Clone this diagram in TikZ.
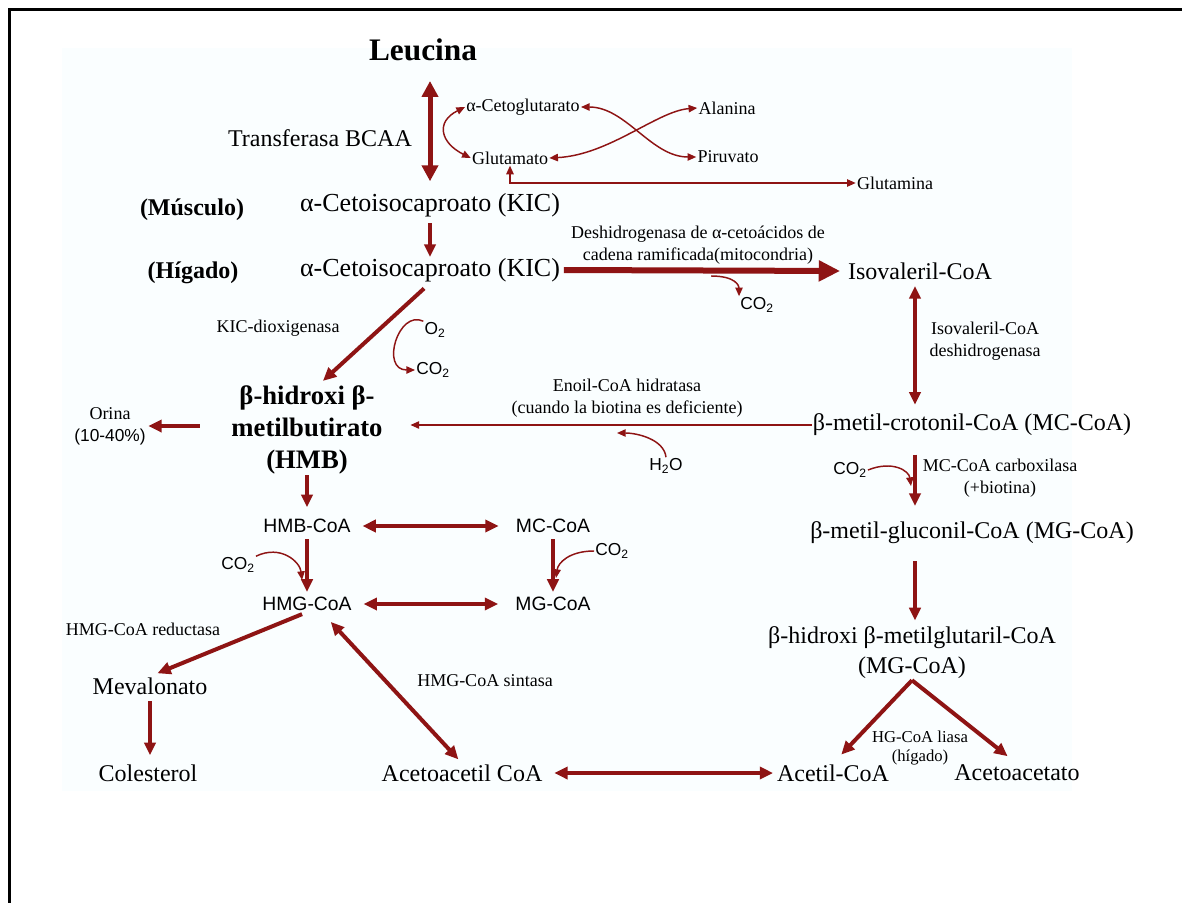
\documentclass[tikz,border=0pt]{standalone}
\usepackage{fontspec}
\setmainfont{Liberation Serif}
\setsansfont{Liberation Sans}
\usepackage{tikz}
\usetikzlibrary{arrows.meta}
\definecolor{pathred}{RGB}{142,20,20}

\tikzset{
  titletxt/.style={font=\bfseries\fontsize{23.5}{28}\selectfont, inner sep=0.75pt},
  bigtxt/.style={font=\fontsize{18}{22.5}\selectfont, inner sep=0.75pt, align=center},
  kictxt/.style={font=\fontsize{19.5}{23}\selectfont, inner sep=0.75pt},
  boldtxt/.style={font=\bfseries\fontsize{18}{22}\selectfont, inner sep=0.75pt},
  hmbtxt/.style={font=\bfseries\fontsize{20}{24}\selectfont, inner sep=0.75pt, align=center},
  smalltxt/.style={font=\fontsize{13.5}{16.5}\selectfont, inner sep=0.75pt, align=center},
  sanstxt/.style={font=\sffamily\fontsize{14.5}{17}\selectfont, inner sep=0.75pt},
  gastxt/.style={font=\sffamily\fontsize{13}{15}\selectfont, inner sep=0.75pt},
  fatarrow/.style={draw=pathred, line width=4.5pt, -{Triangle[length=16pt,width=15pt]}},
  fatboth/.style={draw=pathred, line width=3.75pt, {Triangle[length=12pt,width=12pt]}-{Triangle[length=12pt,width=12pt]}},
  midarrow/.style={draw=pathred, line width=3pt, -{Triangle[length=10pt,width=9pt]}},
  midboth/.style={draw=pathred, line width=3pt, {Triangle[length=10pt,width=9pt]}-{Triangle[length=10pt,width=9pt]}},
  slimarrow/.style={draw=pathred, line width=2.5pt, -{Triangle[length=9.5pt,width=8.5pt]}},
  slimboth/.style={draw=pathred, line width=2.5pt, {Triangle[length=9.5pt,width=8.5pt]}-{Triangle[length=9.5pt,width=8.5pt]}},
  hairarrow/.style={draw=pathred, line width=1.1pt, -{Triangle[length=6.5pt,width=5.5pt]}},
  hairboth/.style={draw=pathred, line width=1.1pt, {Triangle[length=6.5pt,width=5.5pt]}-{Triangle[length=6.5pt,width=5.5pt]}},
}

\begin{document}
\begin{tikzpicture}[x=0.75pt,y=0.75pt,yscale=-1,xscale=1]
\useasboundingbox (0,0) rectangle (1182,903);

%Shape: Rectangle
\fill [fill={rgb, 255:red, 250; green, 254; blue, 255 }] (62,48) rectangle (1072,791);
%Straight Lines (frame)
\draw [line width=2.25pt] (9,903) -- (9,9) -- (1182,9);

% Text Node
\draw (423,50) node (leucina) [titletxt] {Leucina};
% Text Node
\draw (320,138) node (bcaa) [bigtxt] {Transferasa BCAA};
% Text Node
\draw (523,107) node (akg) [smalltxt] {α-Cetoglutarato};
% Text Node
\draw (510,158) node (glu) [smalltxt] {Glutamato};
% Text Node
\draw (727,108) node (ala) [smalltxt] {Alanina};
% Text Node
\draw (728,157) node (piru) [smalltxt] {Piruvato};
% Text Node
\draw (895,183) node (gln) [smalltxt] {Glutamina};
% Text Node
\draw (192,210) node (musc) [boldtxt] {(Músculo)};
% Text Node
\draw (430,205) node (kicm) [kictxt] {α-Cetoisocaproato (KIC)};
% Text Node
\draw (193,273) node (hig) [boldtxt] {(Hígado)};
% Text Node
\draw (430,270) node (kich) [kictxt] {α-Cetoisocaproato (KIC)};
% Text Node
\draw (698,245) node (bckd) [smalltxt] {Deshidrogenasa de α-cetoácidos de\\cadena ramificada(mitocondria)};
% Text Node
\draw (920,271) node (isov) [bigtxt] {Isovaleril-CoA};
% Text Node
\draw (757,305) node (co2a) [gastxt] {CO\textsubscript{2}};
% Text Node
\draw (278,328) node (kdo) [smalltxt] {KIC-dioxigenasa};
% Text Node
\draw (435,330) node (o2) [gastxt] {O\textsubscript{2}};
% Text Node
\draw (433,370) node (co2b) [gastxt] {CO\textsubscript{2}};
% Text Node
\draw (985,341) node (ivd) [smalltxt] {Isovaleril-CoA\\deshidrogenasa};
% Text Node
\draw (307,430) node (hmb) [hmbtxt] {β-hidroxi β-\\metilbutirato\\(HMB)};
% Text Node
\draw (110,426) node (orina) [smalltxt] {Orina\\{\sffamily\fontsize{13}{15}\selectfont (10-40\%)}};
% Text Node
\draw (627,398) node (enoil) [smalltxt] {Enoil-CoA hidratasa\\(cuando la biotina es deficiente)};
% Text Node
\draw (666,466) node (h2o) [gastxt] {H\textsubscript{2}O};
% Text Node
\draw (972,425) node (mcc) [bigtxt] {β-metil-crotonil-CoA (MC-CoA)};
% Text Node
\draw (850,470) node (co2c) [gastxt] {CO\textsubscript{2}};
% Text Node
\draw (1000,478) node (mccase) [smalltxt] {MC-CoA carboxilasa\\(+biotina)};
% Text Node
\draw (972,533) node (mgc) [bigtxt] {β-metil-gluconil-CoA (MG-CoA)};
% Text Node
\draw (912,653) node (hmgr) [bigtxt] {β-hidroxi β-metilglutaril-CoA\\(MG-CoA)};
% Text Node
\draw (920,748) node (lyase) [smalltxt, font=\fontsize{12.5}{14.5}\selectfont] {HG-CoA liasa\\(hígado)};
% Text Node
\draw (833,773) node (acet) [bigtxt] {Acetil-CoA};
% Text Node
\draw (1017,773) node (acac) [bigtxt] {Acetoacetato};
% Text Node
\draw (307,526) node (hmbcoa) [sanstxt] {HMB-CoA};
% Text Node
\draw (553,526) node (mccoa) [sanstxt] {MC-CoA};
% Text Node
\draw (307,604) node (hmgcoa) [sanstxt] {HMG-CoA};
% Text Node
\draw (553,604) node (mgcoa) [sanstxt] {MG-CoA};
% Text Node
\draw (238,565) node (co2d) [gastxt] {CO\textsubscript{2}};
% Text Node
\draw (612,551) node (co2e) [gastxt] {CO\textsubscript{2}};
% Text Node
\draw (143,629) node (hmgred) [smalltxt] {HMG-CoA reductasa};
% Text Node
\draw (150,686) node (meva) [bigtxt] {Mevalonato};
% Text Node
\draw (148,773) node (chol) [bigtxt] {Colesterol};
% Text Node
\draw (485,681) node (hmgsyn) [smalltxt] {HMG-CoA sintasa};
% Text Node
\draw (462,773) node (acacoa) [bigtxt] {Acetoacetil CoA};

\coordinate (rcol) at (915,0);
\coordinate (h2oin) at (617,433);
\coordinate (mcin) at (911,486);
\coordinate (hmbin) at (302,580);
\coordinate (mgin) at (556,578);

%Straight Lines
\draw [fatboth, shorten <=14pt, shorten >=8pt] (kicm.north |- leucina.south) -- (kicm.north);
%Curve Lines
\draw [hairboth] (akg.west) .. controls +(-30,15) and +(-30,-15) .. (glu.west);
%Curve Lines
\draw [hairboth] (akg.east) .. controls +(45,0) and +(-45,0) .. (piru.west);
%Curve Lines
\draw [hairboth] (glu.east) .. controls +(60,-3) and +(-40,3) .. (ala.west);
%Straight Lines
\draw [hairboth] (glu.south) |- (gln.west);
%Straight Lines
\draw [slimarrow, shorten <=4pt] (kicm) -- (kich);
%Straight Lines
\draw [fatarrow, shorten <=2pt, shorten >=5pt] (kich.east) -- (isov.west);
%Curve Lines
\draw [hairarrow] (kich.east) ++(150,6) .. controls +(25,0) and +(0,-10) .. (co2a.north west);
%Straight Lines
\draw [midarrow, shorten <=6pt, shorten >=4pt] (kich.south) -- ([xshift=9pt]hmb.north);
%Curve Lines
\draw [hairarrow] (o2.north west) .. controls +(-25,-12) and +(-35,0) .. (co2b.west);
%Straight Lines
\draw [slimboth, shorten <=4pt, shorten >=6pt] (isov.south -| rcol) -- (mcc.north -| rcol);
%Straight Lines
\draw [hairarrow, shorten >=20pt] (mcc.west) -- (mcc.west -| hmb.east);
%Curve Lines
\draw [hairarrow] (h2o.north) .. controls +(-2,-18) and +(20,0) .. (h2oin);
%Straight Lines
\draw [midarrow, shorten <=23pt, shorten >=1pt] (orina.east -| hmb.west) -- (orina.east);
%Straight Lines
\draw [slimarrow, shorten <=13pt, shorten >=11pt] (mcc.south -| rcol) -- (mgc.north -| rcol);
%Curve Lines
\draw [hairarrow] (co2c.east) .. controls +(25,-10) and +(-2,-15) .. (mcin);
%Straight Lines
\draw [slimarrow, shorten <=12pt, shorten >=4pt] (mgc.south -| rcol) -- (hmgr.north -| rcol);
%Straight Lines
\draw [midarrow, shorten >=9pt] (hmgr.south) -- (acet.north);
%Straight Lines
\draw [midarrow, shorten >=9pt] (hmgr.south) -- (acac.north);
%Straight Lines
\draw [slimarrow, shorten >=8pt] (hmb.south) -- (hmbcoa.north);
%Straight Lines
\draw [midboth, shorten <=8pt, shorten >=12pt] (hmbcoa.east) -- (mccoa.west);
%Straight Lines
\draw [slimarrow, shorten <=4pt, shorten >=3pt] (hmbcoa) -- (hmgcoa);
%Straight Lines
\draw [slimarrow, shorten <=4pt, shorten >=3pt] (mccoa) -- (mgcoa);
%Curve Lines
\draw [hairarrow] (co2d.north east) .. controls +(25,-12) and +(-2,-18) .. (hmbin);
%Curve Lines
\draw [hairarrow] (co2e.west) .. controls +(-25,0) and +(2,-15) .. (mgin);
%Straight Lines
\draw [midboth, shorten <=8pt, shorten >=12pt] (hmgcoa.east) -- (mgcoa.west);
%Straight Lines
\draw [midarrow, shorten <=4pt, shorten >=6pt] (hmgcoa.south) -- (meva.north);
%Straight Lines
\draw [slimarrow, shorten <=4pt, shorten >=6pt] (meva) -- (meva |- chol.north);
%Straight Lines
\draw [midboth, shorten <=10pt, shorten >=4pt] ([xshift=11pt]hmgcoa.south) -- (acacoa.north);
%Straight Lines
\draw [midboth, shorten <=8pt, shorten >=2pt] (acacoa.east) -- (acet.west);

\end{tikzpicture}
\end{document}
